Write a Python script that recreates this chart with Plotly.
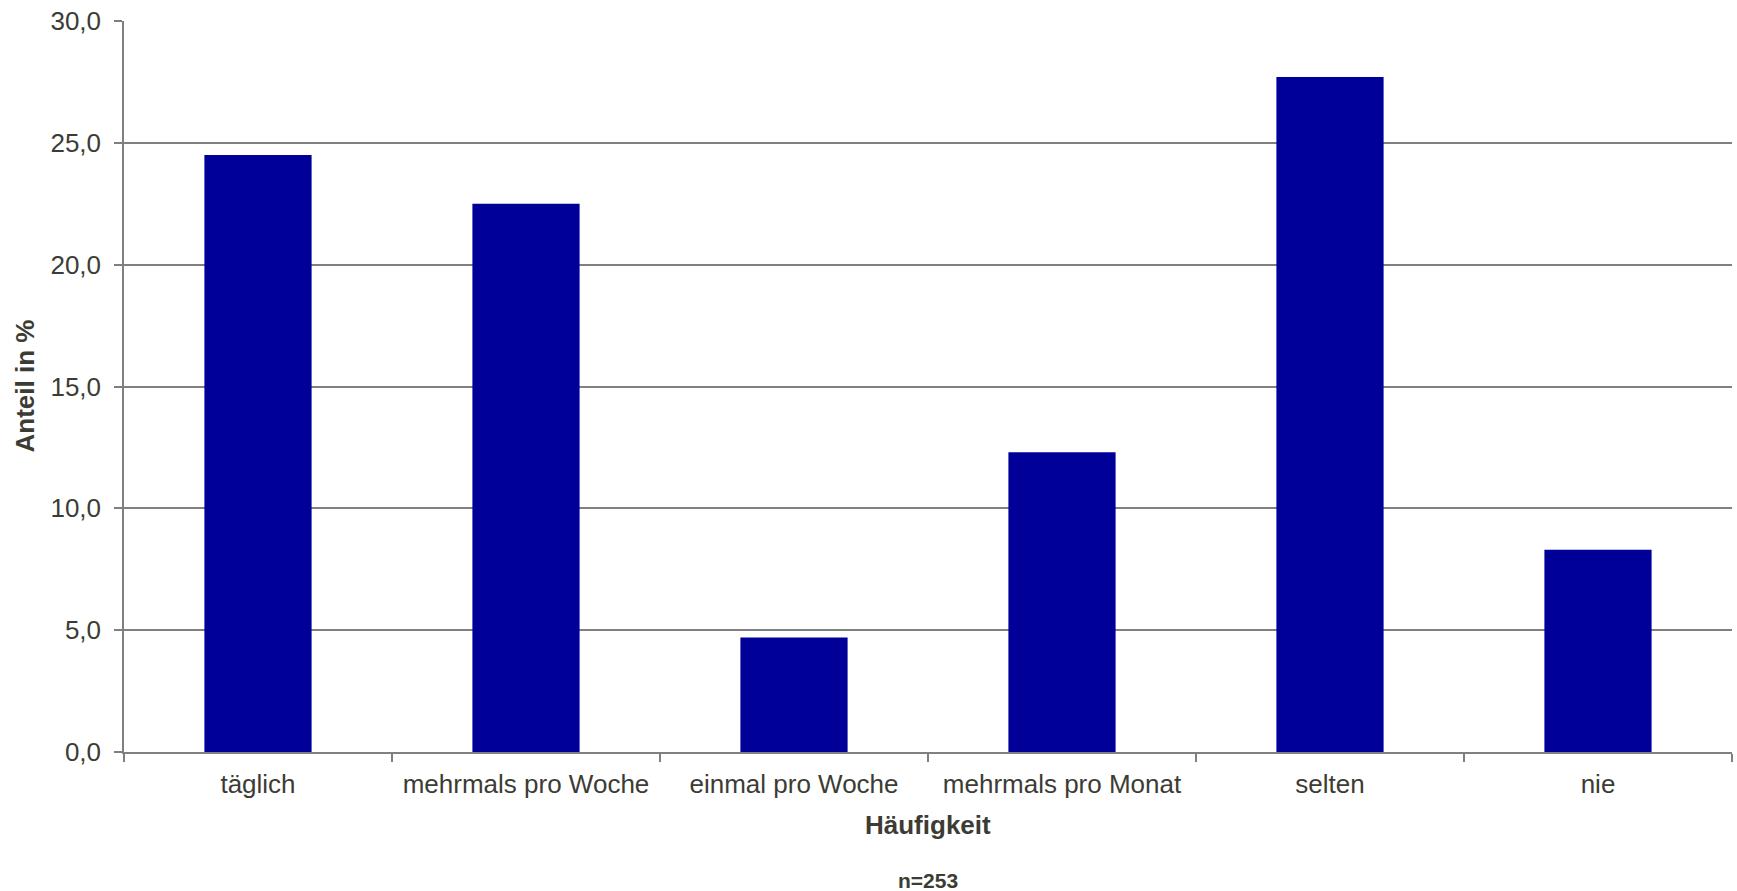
import plotly.graph_objects as go

categories = ["täglich", "mehrmals pro Woche", "einmal pro Woche", "mehrmals pro Monat", "selten", "nie"]
values = [24.5, 22.5, 4.7, 12.3, 27.7, 8.3]
y_ticks = [0, 5, 10, 15, 20, 25, 30]

TEXT = "#3c3c34"
GRID = "#808080"
FONT = "Liberation Sans, Arial, sans-serif"

fig = go.Figure(go.Bar(x=categories, y=values, marker=dict(color="#000099", line=dict(width=0)),
                       hoverinfo="x+y"))

fig.update_layout(
    width=1737, height=891,
    margin=dict(l=124, r=5, t=21, b=139),
    paper_bgcolor="white", plot_bgcolor="white",
    separators=",.",
    bargap=0.6,
    showlegend=False,
    font=dict(family=FONT, size=26, color=TEXT),
)
fig.update_yaxes(
    range=[0, 30], tickvals=y_ticks, tickformat=".1f",
    showgrid=True, gridcolor=GRID, gridwidth=1.5,
    showline=True, linecolor=GRID, linewidth=1.5,
    zeroline=False,
    ticks="outside", ticklen=8, tickcolor=GRID, tickwidth=1.5,
    ticklabelstandoff=8,
    tickfont=dict(family=FONT, size=26, color=TEXT),
)
fig.update_xaxes(
    showline=True, linecolor=GRID, linewidth=1.5,
    ticks="outside", ticklen=8, tickcolor=GRID, tickwidth=1.5, tickson="boundaries",
    tickfont=dict(family=FONT, size=26, color=TEXT),
    ticklabelstandoff=8,
)

plot_w = 1737 - 124 - 5
plot_h = 891 - 21 - 139

fig.add_annotation(text="<b>Häufigkeit</b>", x=0.5, y=(752 - 825) / plot_h, yanchor="middle",
                   xref="paper", yref="paper",
                   showarrow=False, font=dict(family=FONT, size=26, color=TEXT))
fig.add_annotation(text="<b>Anteil in %</b>", x=(24 - 124) / plot_w, xanchor="center", y=0.5,
                   xref="paper", yref="paper",
                   showarrow=False, textangle=-90, font=dict(family=FONT, size=26, color=TEXT))
fig.add_annotation(text="<b>n=253</b>", x=0.5, y=(752 - 880) / plot_h, yanchor="middle",
                   xref="paper", yref="paper", borderpad=0,
                   showarrow=False, font=dict(family=FONT, size=21, color=TEXT))

fig.write_html("out.html", config={"displayModeBar": False},
               post_script="document.body.style.margin='0';document.body.style.overflow='hidden';")
